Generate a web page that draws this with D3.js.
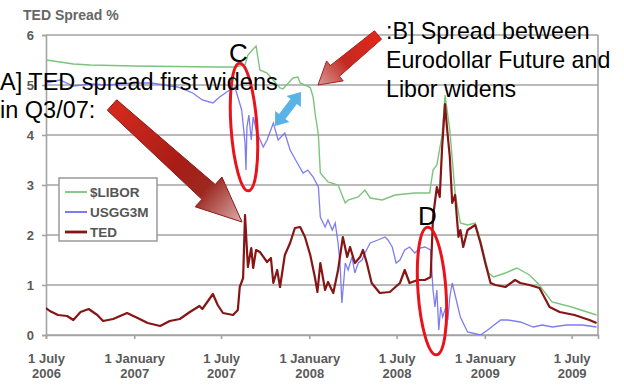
<!DOCTYPE html>
<html><head><meta charset="utf-8">
<script src="https://cdn.jsdelivr.net/npm/d3@7"></script>
<style>
html,body{margin:0;padding:0;background:#fff;}
svg{display:block;font-family:"Liberation Sans",Arial,sans-serif;}
</style></head>
<body>
<svg id="chart" width="624" height="391"></svg>
<script>
// ---------- DATA ----------
const seriesNames = ["$LIBOR", "USGG3M", "TED"];
const yTickValues = [0, 1, 2, 3, 4, 5, 6];
const xTickDates = ["2006-07-01","2007-01-01","2007-07-01","2008-01-01","2008-07-01","2009-01-01","2009-07-01"];

const tedDates = ["2006-07-01","2006-07-09","2006-07-26","2006-08-14","2006-08-27","2006-09-11","2006-09-28","2006-10-16","2006-10-28","2006-11-18","2006-12-17","2007-01-08","2007-01-29","2007-02-24","2007-03-16","2007-04-06","2007-04-27","2007-05-17","2007-05-23","2007-06-14","2007-06-24","2007-07-05","2007-07-26","2007-08-05","2007-08-09","2007-08-16","2007-08-20","2007-08-24","2007-08-26","2007-09-02","2007-09-06","2007-09-12","2007-09-20","2007-10-05","2007-10-13","2007-10-18","2007-10-26","2007-11-01","2007-11-11","2007-11-22","2007-12-02","2007-12-13","2007-12-23","2008-01-03","2008-01-13","2008-01-18","2008-01-24","2008-02-03","2008-02-09","2008-02-20","2008-03-01","2008-03-11","2008-03-20","2008-03-26","2008-04-05","2008-04-16","2008-04-22","2008-04-30","2008-05-10","2008-05-27","2008-06-17","2008-07-08","2008-07-18","2008-07-28","2008-08-14","2008-08-29","2008-09-10","2008-09-15","2008-09-23","2008-09-29","2008-10-04","2008-10-10","2008-10-14","2008-10-20","2008-10-25","2008-10-31","2008-11-07","2008-11-11","2008-11-17","2008-11-26","2008-12-12","2008-12-23","2009-01-02","2009-01-13","2009-01-23","2009-02-13","2009-03-05","2009-03-16","2009-04-04","2009-04-25","2009-05-16","2009-06-06","2009-07-07","2009-08-07","2009-08-22"];
const tedValues = [0.54,0.48,0.40,0.38,0.30,0.46,0.52,0.40,0.28,0.32,0.44,0.34,0.24,0.18,0.28,0.32,0.46,0.58,0.52,0.82,0.60,0.44,0.40,0.50,0.96,1.14,2.40,1.70,1.36,1.74,1.34,1.70,1.66,1.46,1.54,1.04,1.30,0.96,1.60,1.84,2.14,2.16,1.96,1.60,1.14,0.86,1.44,0.90,1.06,0.84,1.30,1.96,1.56,1.76,1.44,1.56,1.70,1.44,1.04,0.84,0.86,1.04,1.30,1.04,1.10,1.10,1.16,2.36,2.96,2.76,3.76,4.62,4.16,3.56,2.64,2.80,1.96,2.10,1.76,2.10,2.20,1.84,1.44,1.04,1.00,0.96,1.10,1.04,1.00,0.94,0.56,0.46,0.40,0.30,0.24];

const usggDates = ["2006-07-01","2006-07-30","2006-08-27","2006-10-01","2006-11-06","2006-12-31","2007-02-05","2007-04-01","2007-05-03","2007-05-23","2007-06-14","2007-06-28","2007-07-19","2007-07-30","2007-08-05","2007-08-13","2007-08-20","2007-08-22","2007-08-24","2007-08-28","2007-09-02","2007-09-06","2007-09-14","2007-09-27","2007-10-05","2007-10-18","2007-10-28","2007-11-11","2007-11-22","2007-12-07","2007-12-19","2007-12-29","2008-01-09","2008-01-20","2008-01-24","2008-02-03","2008-02-09","2008-02-18","2008-02-24","2008-03-01","2008-03-05","2008-03-09","2008-03-16","2008-03-22","2008-03-30","2008-04-05","2008-04-12","2008-04-20","2008-04-26","2008-05-07","2008-05-23","2008-06-07","2008-06-13","2008-06-22","2008-06-30","2008-07-08","2008-07-18","2008-07-28","2008-08-08","2008-08-19","2008-08-29","2008-09-10","2008-09-15","2008-09-19","2008-09-23","2008-09-27","2008-10-01","2008-10-05","2008-10-12","2008-10-16","2008-10-20","2008-10-25","2008-10-31","2008-11-11","2008-11-26","2008-12-23","2009-01-07","2009-02-03","2009-02-18","2009-03-16","2009-04-12","2009-05-01","2009-05-22","2009-06-20","2009-07-23","2009-08-22"];
const usggValues = [5.04,5.10,4.98,5.02,5.00,5.04,5.04,4.96,4.84,4.70,4.64,4.76,4.90,4.96,4.76,4.50,3.84,3.30,4.16,4.40,3.90,4.36,4.04,3.76,3.90,4.24,3.90,4.04,3.70,3.44,3.24,3.30,3.16,2.96,2.36,2.16,2.30,2.10,2.24,1.84,1.44,0.64,1.44,1.30,1.56,1.24,1.44,1.50,1.64,1.84,1.90,1.96,1.90,1.76,1.44,1.50,1.70,1.76,1.64,1.74,1.76,1.70,0.90,0.56,0.90,0.10,0.56,0.36,0.56,0.30,0.76,1.04,0.80,0.36,0.06,0.00,0.10,0.30,0.30,0.26,0.16,0.20,0.16,0.20,0.20,0.16];

const liborDates = ["2006-07-01","2006-07-30","2006-08-27","2006-10-01","2006-12-31","2007-06-20","2007-07-30","2007-08-20","2007-08-26","2007-09-12","2007-09-20","2007-10-05","2007-11-01","2007-11-07","2007-11-28","2007-12-08","2007-12-13","2008-01-03","2008-01-09","2008-01-13","2008-01-20","2008-01-24","2008-02-09","2008-03-01","2008-03-16","2008-03-22","2008-04-12","2008-04-26","2008-05-07","2008-06-01","2008-06-28","2008-08-08","2008-09-08","2008-09-15","2008-09-23","2008-10-04","2008-10-10","2008-10-20","2008-10-31","2008-11-11","2008-11-26","2008-12-12","2008-12-23","2009-01-02","2009-01-09","2009-01-19","2009-02-13","2009-03-09","2009-04-04","2009-04-21","2009-05-21","2009-07-01","2009-08-22"];
const liborValues = [5.50,5.46,5.42,5.40,5.38,5.36,5.36,5.40,5.60,5.78,5.30,5.24,4.94,4.92,5.14,5.16,5.04,4.95,4.76,4.44,4.00,3.24,3.06,3.00,2.64,2.70,2.76,2.90,2.74,2.70,2.80,2.84,2.84,3.30,3.40,4.00,4.80,4.10,2.84,2.24,2.20,2.24,1.90,1.50,1.24,1.16,1.24,1.34,1.20,1.04,0.66,0.56,0.40];

// ---------- LAYOUT ----------
const W = 624, H = 391;
const plot = {left: 46, right: 598, top: 35, bottom: 335};
const colors = {libor: "#7cc47c", usgg: "#6f6ff0", ted: "#861515", grid: "#a3a3a3", axisText: "#5a5a5a"};
const parse = d3.timeParse("%Y-%m-%d");
const svg = d3.select("#chart");

const x = d3.scaleTime().domain([parse("2006-07-01"), parse("2009-08-25")]).range([plot.left, plot.right]);
const y = d3.scaleLinear().domain([0, 6]).range([plot.bottom, plot.top]);

// chart title
svg.append("text").attr("x", 23).attr("y", 20).attr("font-size", 14).attr("font-weight", "bold")
  .attr("fill", "#666").text("TED Spread %");

// gridlines
svg.append("g").selectAll("line").data(yTickValues).join("line")
  .attr("x1", plot.left).attr("x2", plot.right)
  .attr("y1", d => y(d)).attr("y2", d => y(d))
  .attr("stroke", colors.grid).attr("stroke-width", 1.6);

// y axis
const yAxis = svg.append("g").attr("transform", `translate(${plot.left},0)`)
  .call(d3.axisLeft(y).tickValues(yTickValues).tickSize(4).tickPadding(8).tickFormat(d3.format("d")));
yAxis.select(".domain").attr("stroke", colors.grid).attr("stroke-width", 1.6);
yAxis.selectAll(".tick line").attr("stroke", colors.grid).attr("stroke-width", 1.6);
yAxis.selectAll("text").attr("font-size", 13).attr("font-weight", "bold").attr("fill", colors.axisText)
  .attr("font-family", "Liberation Sans, Arial, sans-serif");

// right border
svg.append("line").attr("x1", plot.right).attr("x2", plot.right).attr("y1", plot.top).attr("y2", plot.bottom)
  .attr("stroke", colors.grid).attr("stroke-width", 1.6);

// x axis
const fmtDay = d3.timeFormat("%-d %B"), fmtYear = d3.timeFormat("%Y");
const xAxis = svg.append("g").attr("transform", `translate(0,${plot.bottom})`)
  .call(d3.axisBottom(x).tickValues(xTickDates.map(parse)).tickSize(4).tickFormat(""));
xAxis.select(".domain").attr("stroke", colors.grid).attr("stroke-width", 1.6);
xAxis.selectAll(".tick line").attr("stroke", colors.grid).attr("stroke-width", 1.6);
xAxis.selectAll(".tick").each(function(d) {
  const t = d3.select(this).append("text").attr("text-anchor", "middle").attr("font-size", 13)
    .attr("font-weight", "bold").attr("fill", colors.axisText)
    .attr("font-family", "Liberation Sans, Arial, sans-serif");
  t.append("tspan").attr("x", 0).attr("y", 28).text(fmtDay(d));
  t.append("tspan").attr("x", 0).attr("y", 43).text(fmtYear(d));
});

// lines
svg.append("clipPath").attr("id", "clip").append("rect")
  .attr("x", plot.left).attr("y", plot.top - 2).attr("width", plot.right - plot.left).attr("height", plot.bottom - plot.top + 2);
const line = d3.line().x(d => x(d[0])).y(d => y(d[1]));
const zipS = (ds, vs) => ds.map((d, i) => [parse(d), vs[i]]);
const g = svg.append("g").attr("clip-path", "url(#clip)");
g.append("path").attr("d", line(zipS(liborDates, liborValues))).attr("fill", "none")
  .attr("stroke", colors.libor).attr("stroke-width", 1.4);
g.append("path").attr("d", line(zipS(usggDates, usggValues))).attr("fill", "none")
  .attr("stroke", colors.usgg).attr("stroke-width", 1.3).attr("stroke-opacity", 0.9);
g.append("path").attr("d", line(zipS(tedDates, tedValues))).attr("fill", "none")
  .attr("stroke", colors.ted).attr("stroke-width", 2.2).attr("stroke-linejoin", "round");

// legend
const leg = svg.append("g");
leg.append("rect").attr("x", 59).attr("y", 178).attr("width", 98).attr("height", 63)
  .attr("fill", "#fff").attr("stroke", "#9a9a9a").attr("stroke-width", 1.5);
const legColors = [colors.libor, colors.usgg, colors.ted];
const legW = [1.8, 1.8, 2.8];
seriesNames.forEach((name, i) => {
  const yy = 192 + i * 20;
  leg.append("line").attr("x1", 65).attr("x2", 87).attr("y1", yy).attr("y2", yy)
    .attr("stroke", legColors[i]).attr("stroke-width", legW[i]);
  leg.append("text").attr("x", 90).attr("y", yy).attr("dy", "0.36em").attr("font-size", 13.5)
    .attr("font-weight", "bold").attr("fill", "#555").text(name);
});

// ---------- ANNOTATIONS ----------
const defs = svg.append("defs");
function arrowPoly(tail, tip, wTail, wNeck, hw, hl) {
  const dx = tip[0] - tail[0], dy = tip[1] - tail[1], L = Math.hypot(dx, dy);
  const ux = dx / L, uy = dy / L, nx = -uy, ny = ux;
  const neck = [tip[0] - ux * hl, tip[1] - uy * hl];
  const P = (p, s) => [p[0] + nx * s, p[1] + ny * s];
  return [P(tail, wTail), P(neck, wNeck), P(neck, hw), tip, P(neck, -hw), P(neck, -wNeck), P(tail, -wTail)];
}
function grad(id, a, b, stops) {
  const lg = defs.append("linearGradient").attr("id", id).attr("gradientUnits", "userSpaceOnUse")
    .attr("x1", a[0]).attr("y1", a[1]).attr("x2", b[0]).attr("y2", b[1]);
  stops.forEach(s => lg.append("stop").attr("offset", s[0]).attr("stop-color", s[1]));
}
const ann = svg.append("g");
// arrow A
const aTail = [112, 105], aTip = [242, 222];
grad("gA", aTail, aTip, [[0, "#d52a1e"], [0.5, "#a81d16"], [0.72, "#9c2820"], [1, "#dcaeae"]]);
ann.append("polygon").attr("points", arrowPoly(aTail, aTip, 7, 10, 20, 45).join(" "))
  .attr("fill", "url(#gA)").attr("stroke", "#8a1a16").attr("stroke-width", 1);
// arrow B
const bTail = [378, 35], bTip = [318, 85];
grad("gB", bTail, bTip, [[0, "#e2261a"], [0.55, "#c42a20"], [1, "#d89a9a"]]);
ann.append("polygon").attr("points", arrowPoly(bTail, bTip, 5.5, 7, 13, 22).join(" "))
  .attr("fill", "url(#gB)").attr("stroke", "#a82020").attr("stroke-width", 1);
// blue double arrow
(function() {
  const p1 = [275, 126], p2 = [301, 92];
  const dx = p2[0] - p1[0], dy = p2[1] - p1[1], L = Math.hypot(dx, dy);
  const ux = dx / L, uy = dy / L, nx = -uy, ny = ux, hl = 12, w = 4, hw = 9;
  const n1 = [p1[0] + ux * hl, p1[1] + uy * hl], n2 = [p2[0] - ux * hl, p2[1] - uy * hl];
  const P = (p, s) => [p[0] + nx * s, p[1] + ny * s];
  const pts = [p1, P(n1, hw), P(n1, w), P(n2, w), P(n2, hw), p2, P(n2, -hw), P(n2, -w), P(n1, -w), P(n1, -hw)];
  ann.append("polygon").attr("points", pts.join(" ")).attr("fill", "#5ab2e6");
})();
// ellipses
ann.append("ellipse").attr("cx", 0).attr("cy", 0).attr("rx", 13).attr("ry", 64)
  .attr("transform", "translate(244,127) rotate(-4)").attr("fill", "none").attr("stroke", "#e8141c").attr("stroke-width", 3);
ann.append("ellipse").attr("cx", 0).attr("cy", 0).attr("rx", 14).attr("ry", 64)
  .attr("transform", "translate(432,291) rotate(-4)").attr("fill", "none").attr("stroke", "#e8141c").attr("stroke-width", 3);

// texts
const txt = (s, xx, yy, fs) => ann.append("text").attr("x", xx).attr("y", yy).attr("font-size", fs).attr("fill", "#000").text(s);
txt("A] TED spread first widens", 0, 90, 23.5);
txt("in Q3/07:", 0, 118, 23.5);
txt(":B] Spread between", 386, 39, 23.2);
txt("Eurodollar Future and", 386, 68, 23.2);
txt("Libor widens", 386, 97, 23.2);
txt("C", 229, 62, 26);
txt("D", 418, 225, 26);
</script>
</body></html>
